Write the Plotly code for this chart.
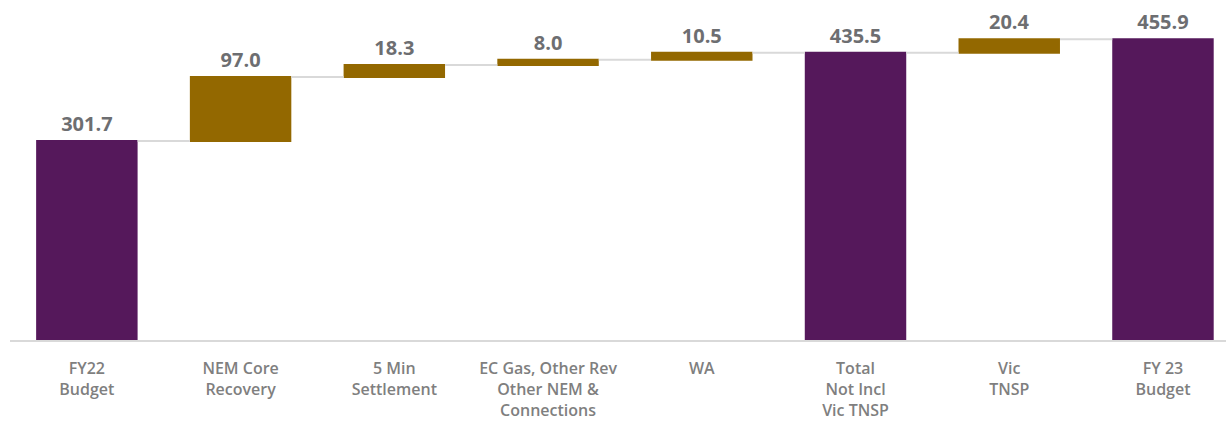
import plotly.graph_objects as go

categories = ["FY22<br>Budget", "NEM Core<br>Recovery", "5 Min<br>Settlement",
              "EC Gas, Other Rev<br>Other NEM &<br>Connections", "WA",
              "Total<br>Not Incl<br>Vic TNSP", "Vic<br>TNSP", "FY 23<br>Budget"]
values = [301.7, 97.0, 18.3, 8.0, 10.5, 0, 20.4, 0]
measures = ["absolute", "relative", "relative", "relative", "relative", "total", "relative", "total"]
labels = ["301.7", "97.0", "18.3", "8.0", "10.5", "435.5", "20.4", "455.9"]

PURPLE = "#55185B"
GOLD = "#936800"
TEXT_GRAY = "#6D6E71"
LABEL_GRAY = "#7F7F7F"

fig = go.Figure(go.Waterfall(
    x=categories,
    y=values,
    measure=measures,
    text=labels,
    textposition="outside",
    textfont=dict(family="Open Sans", size=20, color=TEXT_GRAY, weight="bold"),
    increasing=dict(marker=dict(color=GOLD)),
    decreasing=dict(marker=dict(color=GOLD)),
    totals=dict(marker=dict(color=PURPLE)),
    connector=dict(line=dict(color="#D9D9D9", width=2)),
    width=0.66,
    cliponaxis=False,
))

fig.update_layout(
    width=1226, height=421,
    margin=dict(l=10, r=0, t=0, b=81),
    paper_bgcolor="white", plot_bgcolor="white",
    showlegend=False,
    xaxis=dict(
        range=[-0.5, 7.41],
        showgrid=False, zeroline=False,
        showline=True, linecolor="#D9D9D9", linewidth=2,
        ticks="", ticklabelstandoff=13,
        tickfont=dict(family="Open Sans", size=16, color=LABEL_GRAY, weight=600),
    ),
    yaxis=dict(
        range=[0, 515.5], visible=False, showgrid=False, zeroline=False,
    ),
)

fig.write_html("out.html")
